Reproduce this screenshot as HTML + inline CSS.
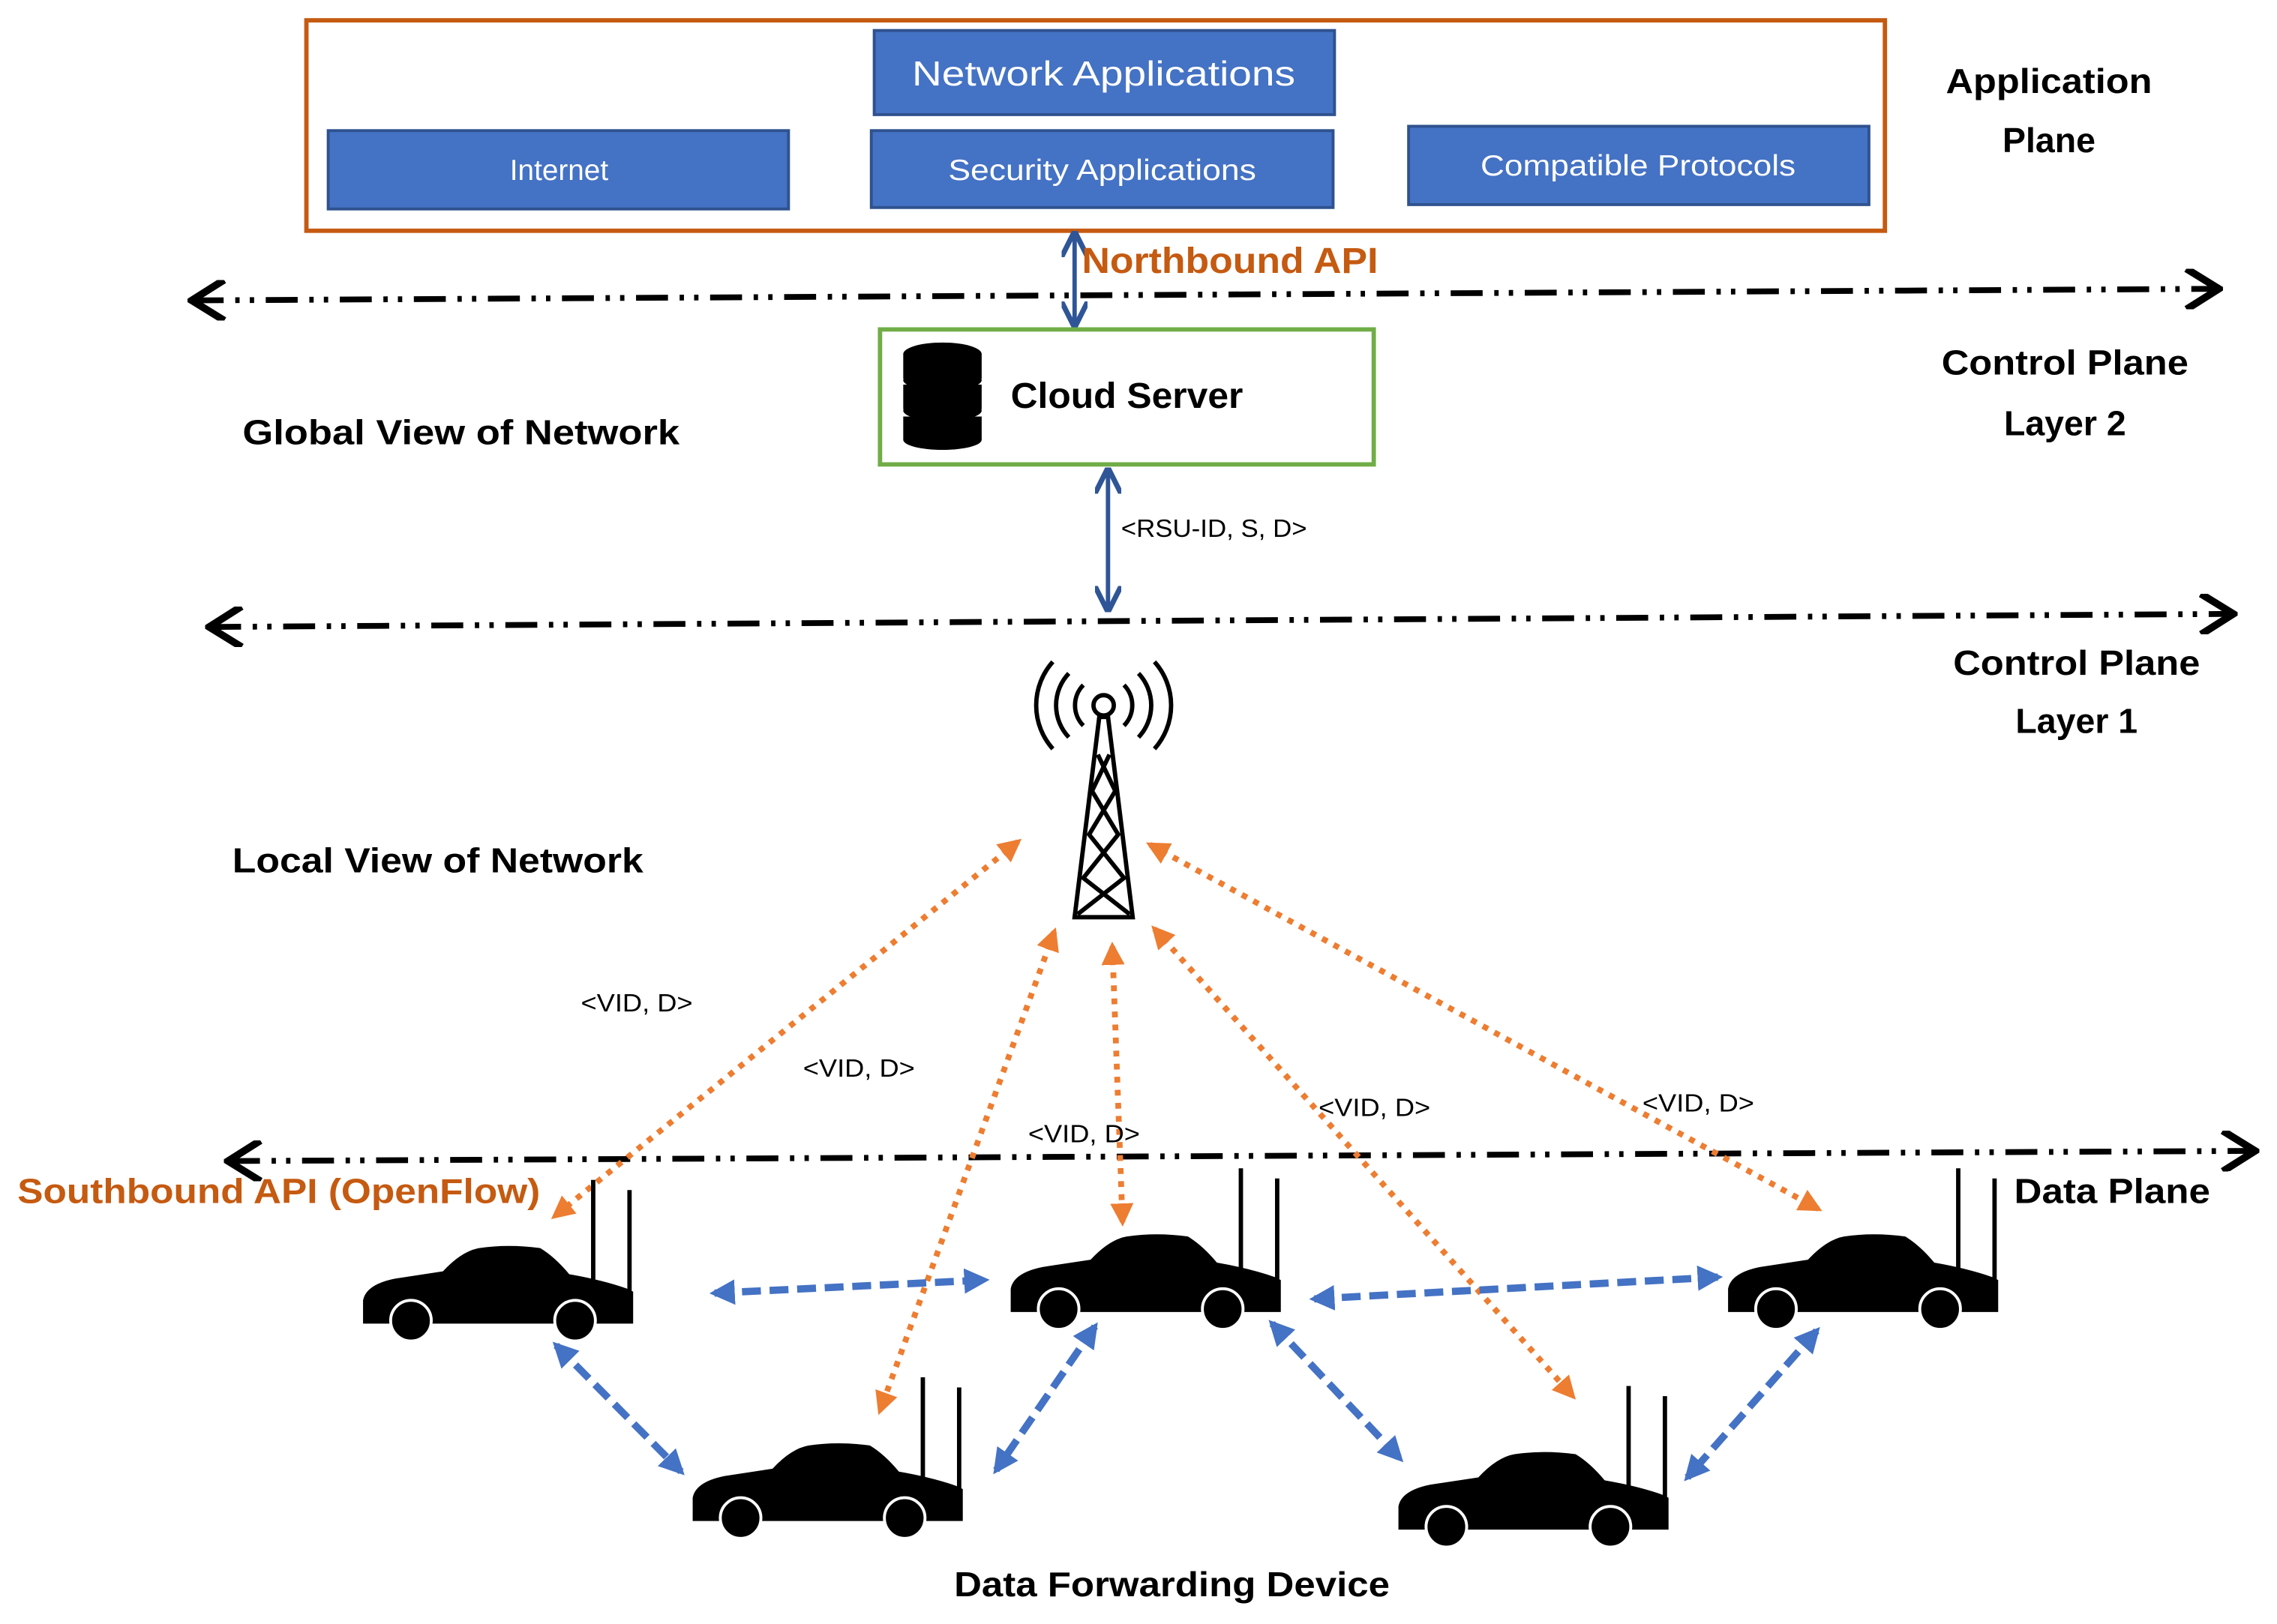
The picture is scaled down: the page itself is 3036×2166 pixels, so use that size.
<!DOCTYPE html>
<html><head><meta charset="utf-8"><style>
html,body{margin:0;padding:0;background:#fff;}
svg{display:block;}
text{font-family:"Liberation Sans",sans-serif;}
</style></head><body>
<svg width="3036" height="2166" viewBox="0 0 1568 1119" preserveAspectRatio="none" xmlns="http://www.w3.org/2000/svg">
<defs>
<marker id="ob" viewBox="0 0 10 10" refX="8" refY="5" markerWidth="4" markerHeight="4" orient="auto-start-reverse"><path d="M0,0 L10,5 L0,10 Z" fill="#ED7D31"/></marker>
<marker id="bb" viewBox="0 0 10 10" refX="8" refY="5" markerWidth="3.5" markerHeight="3.5" orient="auto-start-reverse"><path d="M0,0 L10,5 L0,10 Z" fill="#4472C4"/></marker>
<marker id="db" viewBox="0 0 10 10" refX="9" refY="5" markerWidth="6" markerHeight="6" orient="auto-start-reverse"><path d="M0,0 L10,5 L0,10" fill="none" stroke="#2F5597" stroke-width="2"/></marker>
<marker id="kb" viewBox="0 0 10 10" refX="9" refY="5" markerWidth="7" markerHeight="7" orient="auto-start-reverse"><path d="M1,0 L9,5 L1,10" fill="none" stroke="#000" stroke-width="1.8"/></marker>
<g id="car">
<path d="M0,52 L0,38 Q2,27 22,23 L55,18 Q68,4 80,2 Q100,-1 122,2 Q132,8 142,20 Q165,24 182,30 L186,32 L186,54 L0,54 Z" fill="#000"/>
<circle cx="33" cy="52" r="14" fill="#000" stroke="#fff" stroke-width="2"/>
<circle cx="146" cy="52" r="14" fill="#000" stroke="#fff" stroke-width="2"/>
<rect x="157" y="-45" width="3" height="75" fill="#000"/>
<rect x="182" y="-38" width="3" height="70" fill="#000"/>
</g>
</defs>

<rect x="211" y="14" width="1087" height="145" fill="none" stroke="#C55A11" stroke-width="3"/>
<rect x="602" y="21" width="317" height="58" fill="#4472C4" stroke="#2F528F" stroke-width="2"/>
<text x="760" y="59" font-size="24" fill="#fff" text-anchor="middle" textLength="264" lengthAdjust="spacingAndGlyphs">Network Applications</text>
<rect x="226" y="90" width="317" height="54" fill="#4472C4" stroke="#2F528F" stroke-width="2"/>
<text x="385" y="124" font-size="20" fill="#fff" text-anchor="middle">Internet</text>
<rect x="600" y="90" width="318" height="53" fill="#4472C4" stroke="#2F528F" stroke-width="2"/>
<text x="759" y="124" font-size="20" fill="#fff" text-anchor="middle" textLength="212" lengthAdjust="spacingAndGlyphs">Security Applications</text>
<rect x="970" y="87" width="317" height="54" fill="#4472C4" stroke="#2F528F" stroke-width="2"/>
<text x="1128" y="121" font-size="20" fill="#fff" text-anchor="middle" textLength="217" lengthAdjust="spacingAndGlyphs">Compatible Protocols</text>
<text x="1411" y="64" font-size="24" font-weight="bold" text-anchor="middle" textLength="142" lengthAdjust="spacingAndGlyphs">Application</text>
<text x="1411" y="105" font-size="24" font-weight="bold" text-anchor="middle">Plane</text>

<line x1="740" y1="161" x2="740" y2="224" stroke="#2F5597" stroke-width="3" marker-start="url(#db)" marker-end="url(#db)"/>
<text x="745" y="188" font-size="25" font-weight="bold" fill="#C55A11" textLength="204" lengthAdjust="spacingAndGlyphs">Northbound API</text>

<g stroke="#000" stroke-width="4" stroke-dasharray="22 8 3 7 3 8" marker-start="url(#kb)" marker-end="url(#kb)">
<line x1="132" y1="207" x2="1528" y2="199"/>
<line x1="144" y1="432" x2="1538" y2="423"/>
<line x1="157" y1="800" x2="1553" y2="793"/>
</g>

<rect x="606" y="227" width="340" height="93" fill="#fff" stroke="#70AD47" stroke-width="3"/>
<g fill="#000">
<ellipse cx="649" cy="244" rx="27" ry="8"/>
<rect x="622" y="244" width="54" height="17"/>
<ellipse cx="649" cy="262" rx="27" ry="7"/>
<rect x="622" y="265" width="54" height="17"/>
<ellipse cx="649" cy="283" rx="27" ry="7"/>
<rect x="622" y="287" width="54" height="16"/>
<ellipse cx="649" cy="303" rx="27" ry="7"/>
</g>
<text x="696" y="281" font-size="25" font-weight="bold" textLength="160" lengthAdjust="spacingAndGlyphs">Cloud Server</text>
<text x="167" y="306" font-size="24" font-weight="bold" textLength="301" lengthAdjust="spacingAndGlyphs">Global View of Network</text>
<text x="1422" y="258" font-size="24" font-weight="bold" text-anchor="middle" textLength="170" lengthAdjust="spacingAndGlyphs">Control Plane</text>
<text x="1422" y="300" font-size="24" font-weight="bold" text-anchor="middle">Layer 2</text>

<line x1="763" y1="324" x2="763" y2="420" stroke="#2F5597" stroke-width="3" marker-start="url(#db)" marker-end="url(#db)"/>
<text x="772" y="370" font-size="17" textLength="128" lengthAdjust="spacingAndGlyphs">&lt;RSU-ID, S, D&gt;</text>

<text x="1430" y="465" font-size="24" font-weight="bold" text-anchor="middle" textLength="170" lengthAdjust="spacingAndGlyphs">Control Plane</text>
<text x="1430" y="505" font-size="24" font-weight="bold" text-anchor="middle">Layer 1</text>

<g fill="none" stroke="#000" stroke-width="3">
<circle cx="760" cy="486" r="7"/>
<path d="M746,472 A20,20 0 0 0 746,500 M774,472 A20,20 0 0 1 774,500"/>
<path d="M736,464 A32,32 0 0 0 736,508 M784,464 A32,32 0 0 1 784,508"/>
<path d="M725,456 A45,45 0 0 0 725,516 M795,456 A45,45 0 0 1 795,516"/>
<path d="M757,494 L740,632 L780,632 L763,494 Z"/>
<path d="M756,520 L768,545 L750,575 L774,605 L742,630 M764,520 L752,545 L770,575 L746,605 L778,630"/>
</g>
<text x="160" y="601" font-size="24" font-weight="bold" textLength="283" lengthAdjust="spacingAndGlyphs">Local View of Network</text>

<g stroke="#ED7D31" stroke-width="4" stroke-dasharray="4 5" fill="none">
<line x1="701" y1="580" x2="382" y2="838" marker-start="url(#ob)" marker-end="url(#ob)"/>
<line x1="726" y1="642" x2="606" y2="972" marker-start="url(#ob)" marker-end="url(#ob)"/>
<line x1="766" y1="652" x2="773" y2="842" marker-start="url(#ob)" marker-end="url(#ob)"/>
<line x1="795" y1="640" x2="1083" y2="962" marker-start="url(#ob)" marker-end="url(#ob)"/>
<line x1="792" y1="582" x2="1252" y2="833" marker-start="url(#ob)" marker-end="url(#ob)"/>
</g>
<g font-size="17">
<text x="400" y="697" textLength="77" lengthAdjust="spacingAndGlyphs">&lt;VID, D&gt;</text>
<text x="553" y="742" textLength="77" lengthAdjust="spacingAndGlyphs">&lt;VID, D&gt;</text>
<text x="708" y="787" textLength="77" lengthAdjust="spacingAndGlyphs">&lt;VID, D&gt;</text>
<text x="908" y="769" textLength="77" lengthAdjust="spacingAndGlyphs">&lt;VID, D&gt;</text>
<text x="1131" y="766" textLength="77" lengthAdjust="spacingAndGlyphs">&lt;VID, D&gt;</text>
</g>

<text x="12" y="829" font-size="24" font-weight="bold" fill="#C55A11" textLength="360" lengthAdjust="spacingAndGlyphs">Southbound API (OpenFlow)</text>
<text x="1387" y="829" font-size="24" font-weight="bold" textLength="135" lengthAdjust="spacingAndGlyphs">Data Plane</text>

<use href="#car" x="250" y="858"/>
<use href="#car" x="696" y="850"/>
<use href="#car" x="1190" y="850"/>
<use href="#car" x="477" y="994"/>
<use href="#car" x="963" y="1000"/>

<g stroke="#4472C4" stroke-width="5" stroke-dasharray="13 6" fill="none">
<line x1="492" y1="891" x2="678" y2="882" marker-start="url(#bb)" marker-end="url(#bb)"/>
<line x1="905" y1="895" x2="1183" y2="880" marker-start="url(#bb)" marker-end="url(#bb)"/>
<line x1="383" y1="927" x2="469" y2="1014" marker-start="url(#bb)" marker-end="url(#bb)"/>
<line x1="754" y1="914" x2="686" y2="1013" marker-start="url(#bb)" marker-end="url(#bb)"/>
<line x1="876" y1="912" x2="964" y2="1005" marker-start="url(#bb)" marker-end="url(#bb)"/>
<line x1="1251" y1="917" x2="1162" y2="1018" marker-start="url(#bb)" marker-end="url(#bb)"/>
</g>

<text x="807" y="1100" font-size="24" font-weight="bold" text-anchor="middle" textLength="300" lengthAdjust="spacingAndGlyphs">Data Forwarding Device</text>
</svg>
</body></html>
